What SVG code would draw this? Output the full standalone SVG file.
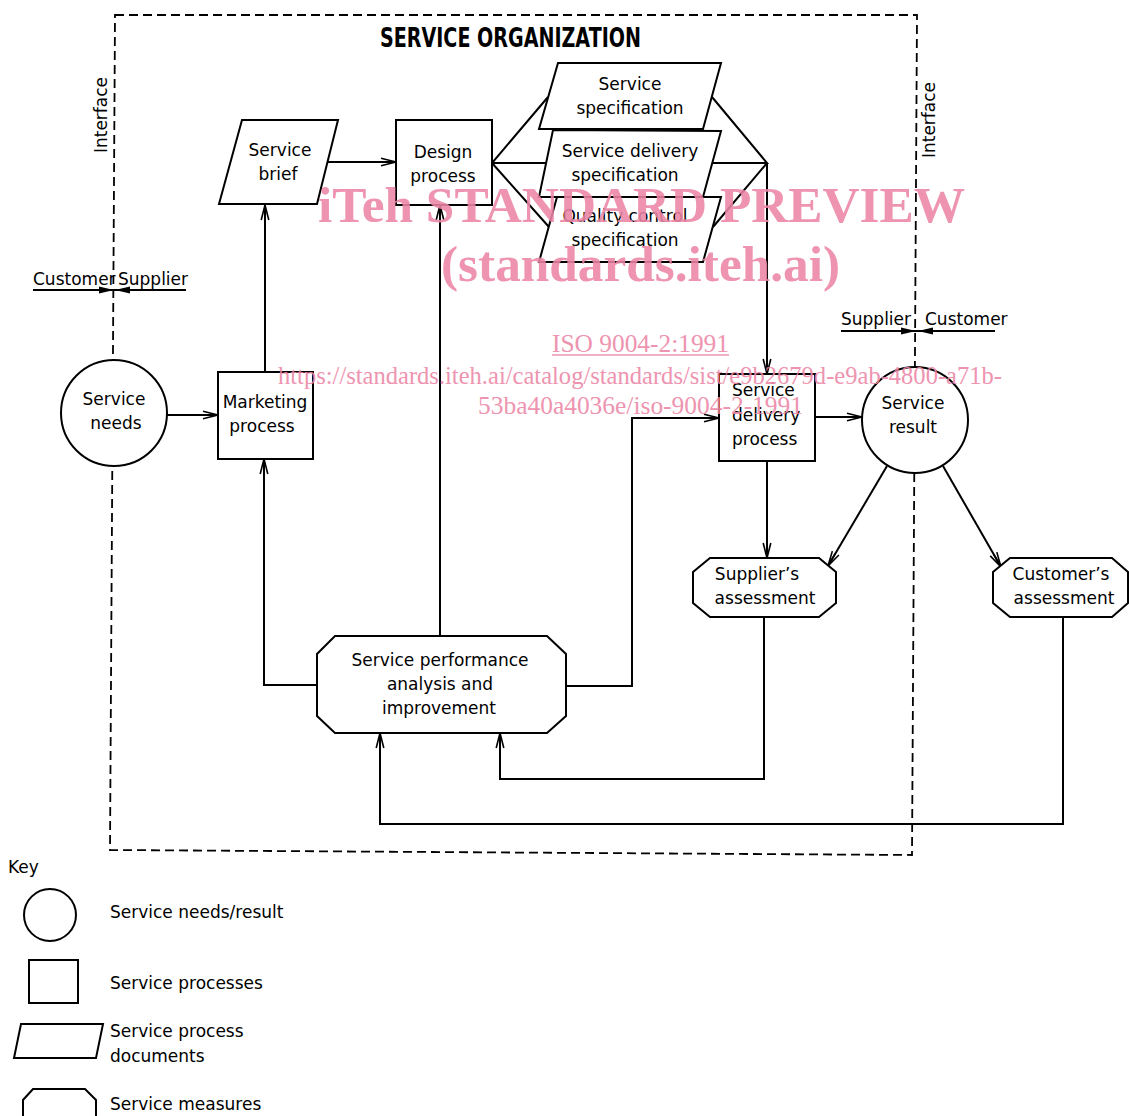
<svg xmlns="http://www.w3.org/2000/svg" width="1129" height="1116" viewBox="0 0 1129 1116">
<style>
.ln{fill:none;stroke:#000;stroke-width:2}
.sh{fill:#fff;stroke:#000;stroke-width:2}
.ds{fill:none;stroke:#000;stroke-width:1.8;stroke-dasharray:9 5}
.t{font-family:"DejaVu Sans",sans-serif;font-size:17px;fill:#000}
.c{text-anchor:middle}
.title{font-family:"DejaVu Sans",sans-serif;font-size:27px;font-weight:bold;fill:#000}
.wm{font-family:"Liberation Serif","Times New Roman",serif;fill:#ec86a6;opacity:0.88}
</style>
<defs>
<marker id="arr" markerWidth="18" markerHeight="10" refX="16" refY="5" orient="auto" markerUnits="userSpaceOnUse">
<path d="M1,1.2 L16,5 L1,8.8 M2,5 L16,5" fill="none" stroke="#000" stroke-width="1.6"/>
</marker>
<marker id="fa" markerWidth="16" markerHeight="10" refX="15" refY="5" orient="auto" markerUnits="userSpaceOnUse">
<path d="M0,1.5 L15,5 L0,8.5 Z" fill="#000"/>
</marker>
</defs>
<rect width="1129" height="1116" fill="#fff"/>

<g id="boundary">
<path class="ds" d="M115,15 L917,15 L912,855 L110,850 Z"/>
<text class="title" x="380" y="47" textLength="261" lengthAdjust="spacingAndGlyphs">SERVICE ORGANIZATION</text>
<text class="t c" transform="translate(107,115) rotate(-90)">Interface</text>
<text class="t c" transform="translate(935,120) rotate(-90)">Interface</text>
</g>

<g id="interface-left">
<text class="t" x="33" y="285">Customer</text>
<text class="t" x="118" y="285">Supplier</text>
<path class="ln" d="M33,290 L186,290" stroke-width="1.8"/>
<path class="ln" d="M60,290 L114,290" marker-end="url(#fa)" stroke-width="1.8"/>
<path class="ln" d="M170,290 L115,290" marker-end="url(#fa)" stroke-width="1.8"/>
</g>
<g id="interface-right">
<text class="t" x="841" y="325">Supplier</text>
<text class="t" x="925" y="325">Customer</text>
<path class="ln" d="M841,331 L995,331" stroke-width="1.8"/>
<path class="ln" d="M860,331 L916,331" marker-end="url(#fa)" stroke-width="1.8"/>
<path class="ln" d="M975,331 L918,331" marker-end="url(#fa)" stroke-width="1.8"/>
</g>

<g id="connectors">
<path class="ln" d="M167,415 L218,415" marker-end="url(#arr)"/>
<path class="ln" d="M265,372 L265,205" marker-end="url(#arr)"/>
<path class="ln" d="M327,162 L396,162" marker-end="url(#arr)"/>
<path class="ln" d="M548,97 L492,163 L546,163 M492,163 L549,227"/>
<path class="ln" d="M712,97 L767,163 L712,163 M713,227 L767,163"/>
<path class="ln" d="M767,163 L767,374" marker-end="url(#arr)"/>
<path class="ln" d="M815,417 L862,417" marker-end="url(#arr)"/>
<path class="ln" d="M566,686 L632,686 L632,418 L719,418" marker-end="url(#arr)"/>
<path class="ln" d="M317,685 L264,685 L264,459" marker-end="url(#arr)"/>
<path class="ln" d="M440,636 L440,205" marker-end="url(#arr)"/>
<path class="ln" d="M767,461 L767,558" marker-end="url(#arr)"/>
<path class="ln" d="M887,466 L828,566" marker-end="url(#arr)"/>
<path class="ln" d="M943,466 L1001,567" marker-end="url(#arr)"/>
<path class="ln" d="M764,617 L764,779 L500,779 L500,733" marker-end="url(#arr)"/>
<path class="ln" d="M1063,617 L1063,824 L380,824 L380,733" marker-end="url(#arr)"/>
</g>

<g id="service-needs">
<circle class="sh" cx="114" cy="413" r="53"/>
<text class="t c" x="114" y="405">Service</text>
<text class="t c" x="116" y="429">needs</text>
</g>
<g id="service-brief">
<path class="sh" d="M242,120 L338,120 L317,204 L219,204 Z"/>
<text class="t c" x="280" y="156">Service</text>
<text class="t c" x="278" y="180">brief</text>
</g>
<g id="design-process">
<rect class="sh" x="396" y="120" width="96" height="85"/>
<text class="t c" x="443" y="158">Design</text>
<text class="t c" x="443" y="182">process</text>
</g>
<g id="service-specification">
<path class="sh" d="M558,63 L721,63 L703,129 L539,129 Z"/>
<text class="t c" x="630" y="90">Service</text>
<text class="t c" x="630" y="114">specification</text>
</g>
<g id="service-delivery-specification">
<path class="sh" d="M553,130 L721,131 L703,197 L539,197 Z"/>
<text class="t c" x="630" y="157">Service delivery</text>
<text class="t c" x="625" y="181">specification</text>
</g>
<g id="quality-control-specification">
<path class="sh" d="M557,197 L721,197 L703,262 L539,262 Z"/>
<text class="t c" x="625" y="222">Quality control</text>
<text class="t c" x="625" y="246">specification</text>
</g>
<g id="marketing-process">
<rect class="sh" x="218" y="372" width="95" height="87"/>
<text class="t c" x="265" y="408">Marketing</text>
<text class="t c" x="262" y="432">process</text>
</g>
<g id="service-delivery-process">
<rect class="sh" x="719" y="374" width="96" height="87"/>
<text class="t" x="732" y="396">Service</text>
<text class="t" x="732" y="421">delivery</text>
<text class="t" x="732" y="445">process</text>
</g>
<g id="service-result">
<circle class="sh" cx="915" cy="420" r="53"/>
<text class="t c" x="913" y="409">Service</text>
<text class="t c" x="913" y="433">result</text>
</g>
<g id="suppliers-assessment">
<path class="sh" d="M710,558 L819,558 L836,572 L836,603 L819,617 L710,617 L693,603 L693,572 Z"/>
<text class="t c" x="757" y="580">Supplier’s</text>
<text class="t c" x="765" y="604">assessment</text>
</g>
<g id="customers-assessment">
<path class="sh" d="M1010,558 L1112,558 L1128,572 L1128,603 L1112,617 L1010,617 L993,603 L993,572 Z"/>
<text class="t c" x="1061" y="580">Customer’s</text>
<text class="t c" x="1064" y="604">assessment</text>
</g>
<g id="service-performance">
<path class="sh" d="M335,636 L547,636 L566,654 L566,716 L547,733 L335,733 L317,716 L317,654 Z"/>
<text class="t c" x="440" y="666">Service performance</text>
<text class="t c" x="440" y="690">analysis and</text>
<text class="t c" x="439" y="714">improvement</text>
</g>

<g id="key">
<text class="t" x="8" y="873">Key</text>
<circle class="sh" cx="50" cy="915" r="26"/>
<text class="t" x="110" y="918">Service needs/result</text>
<rect class="sh" x="29" y="960" width="49" height="43"/>
<text class="t" x="110" y="989">Service processes</text>
<path class="sh" d="M21,1024 L103,1024 L96,1058 L14,1058 Z"/>
<text class="t" x="110" y="1037">Service process</text>
<text class="t" x="110" y="1062">documents</text>
<path class="sh" d="M33,1089 L85,1089 L96,1100 L96,1118 L85,1128 L33,1128 L23,1118 L23,1100 Z"/>
<text class="t" x="110" y="1110">Service measures</text>
</g>

<g id="watermark">
<text class="wm" x="318" y="222" font-size="50" font-weight="bold" textLength="647" lengthAdjust="spacingAndGlyphs">iTeh STANDARD PREVIEW</text>
<text class="wm" x="441" y="281" font-size="50" font-weight="bold" textLength="399" lengthAdjust="spacingAndGlyphs">(standards.iteh.ai)</text>
<text class="wm" x="552" y="352" font-size="25" textLength="177" lengthAdjust="spacingAndGlyphs">ISO 9004-2:1991</text>
<path d="M552,355 L729,355" stroke="#ec86a6" stroke-width="1.5" opacity="0.88"/>
<text class="wm" x="278" y="384" font-size="25" textLength="724" lengthAdjust="spacingAndGlyphs">https://standards.iteh.ai/catalog/standards/sist/e9b2679d-e9ab-4800-a71b-</text>
<text class="wm" x="478" y="414" font-size="25" textLength="325" lengthAdjust="spacingAndGlyphs">53ba40a4036e/iso-9004-2-1991</text>
</g>
</svg>
